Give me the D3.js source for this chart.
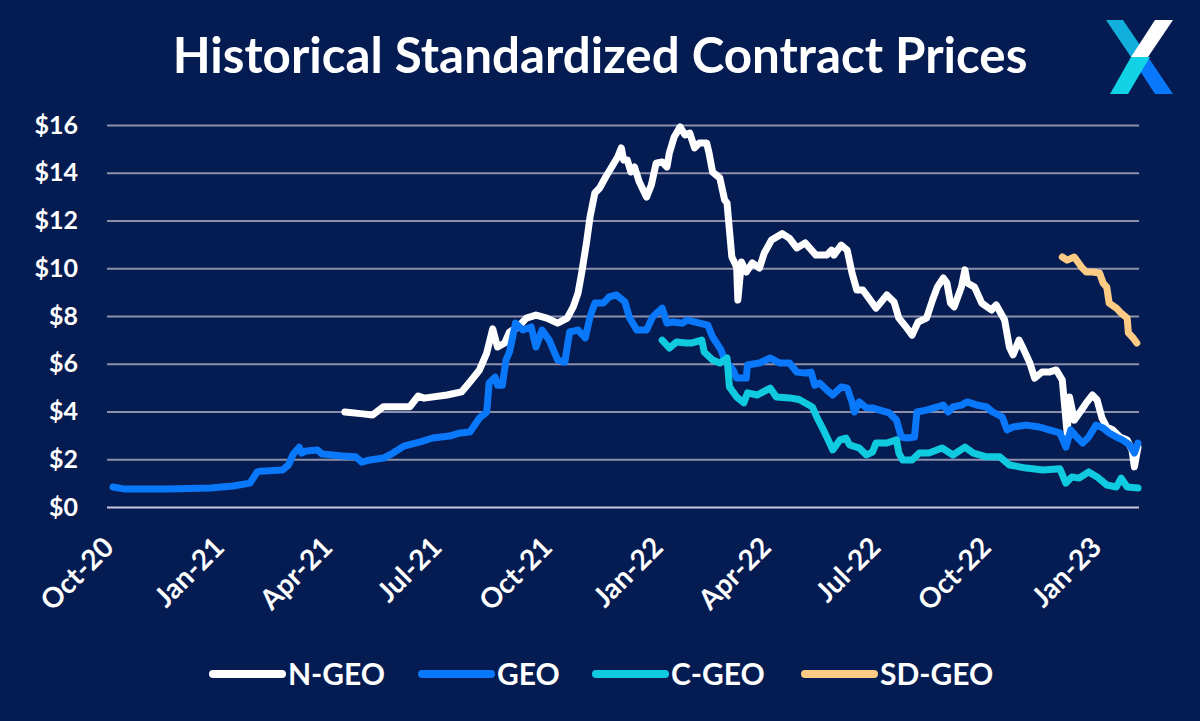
<!DOCTYPE html>
<html lang="en">
<head>
<meta charset="UTF-8">
<title>Historical Standardized Contract Prices</title>
<script src="https://d3js.org/d3.v7.min.js"></script>
<style>
  html, body { margin: 0; padding: 0; background: #051c52; }
  text { font-family: Lato, "Open Sans", sans-serif; font-weight: 700; fill: #ffffff; }
</style>
</head>
<body>
<script>

    // values (date, $)
    var nGeo = [
        ["2021-04-12",3.98],["2021-04-27",3.90],["2021-05-05",3.85],["2021-05-14",4.20],["2021-06-05",4.20],["2021-06-12",4.65],
        ["2021-06-17",4.56],["2021-07-06",4.69],["2021-07-18",4.82],["2021-07-25",5.24],["2021-08-02",5.74],["2021-08-08",6.45],
        ["2021-08-13",7.46],["2021-08-17",6.70],["2021-08-23",6.87],["2021-08-27",7.33],["2021-09-03",7.54],["2021-09-10",7.91],
        ["2021-09-18",8.04],["2021-09-27",7.91],["2021-10-06",7.70],["2021-10-14",7.91],["2021-10-19",8.38],["2021-10-23",8.96],
        ["2021-10-26",9.80],["2021-10-30",11.06],["2021-11-02",12.15],["2021-11-06",13.15],["2021-11-10",13.36],["2021-11-15",13.82],
        ["2021-11-20",14.24],["2021-11-25",14.66],["2021-11-28",15.04],["2021-11-30",14.53],["2021-12-03",14.53],["2021-12-06",14.03],
        ["2021-12-09",14.24],["2021-12-13",13.61],["2021-12-19",12.98],["2021-12-23",13.49],["2021-12-27",14.40],["2022-01-01",14.45],
        ["2022-01-05",14.24],["2022-01-07",14.83],["2022-01-11",15.50],["2022-01-16",15.92],["2022-01-20",15.58],["2022-01-24",15.66],
        ["2022-01-28",15.04],["2022-02-01",15.25],["2022-02-07",15.25],["2022-02-09",14.83],["2022-02-12",14.03],["2022-02-18",13.78],
        ["2022-02-22",12.86],["2022-02-24",12.73],["2022-02-28",10.47],["2022-03-04",10.05],["2022-03-05",8.67],["2022-03-08",10.26],
        ["2022-03-12",9.84],["2022-03-17",10.22],["2022-03-23",10.01],["2022-03-27",10.64],["2022-04-02",11.18],["2022-04-11",11.45],
        ["2022-04-17",11.25],["2022-04-23",10.85],["2022-04-30",11.06],["2022-05-09",10.55],["2022-05-18",10.55],["2022-05-22",10.76],
        ["2022-05-24",10.55],["2022-05-30",10.97],["2022-06-04",10.76],["2022-06-08",9.80],["2022-06-12",9.09],["2022-06-17",9.09],
        ["2022-06-22",8.75],["2022-06-28",8.33],["2022-07-07",8.88],["2022-07-13",8.59],["2022-07-17",7.91],["2022-07-23",7.54],
        ["2022-07-28",7.20],["2022-08-02",7.75],["2022-08-09",7.91],["2022-08-14",8.67],["2022-08-18",9.21],["2022-08-23",9.59],
        ["2022-08-26",9.38],["2022-08-29",8.54],["2022-09-01",8.38],["2022-09-07",9.21],["2022-09-10",9.93],["2022-09-12",9.38],
        ["2022-09-18",9.21],["2022-09-24",8.54],["2022-10-02",8.25],["2022-10-06",8.46],["2022-10-13",7.83],["2022-10-17",6.70],
        ["2022-10-20",6.37],["2022-10-25",6.99],["2022-10-29",6.58],["2022-11-03",6.03],["2022-11-07",5.40],["2022-11-13",5.65],
        ["2022-11-19",5.65],["2022-11-25",5.74],["2022-11-30",5.32],["2022-12-04",3.10],["2022-12-06",4.61],["2022-12-10",3.64],
        ["2022-12-16",4.06],["2022-12-20",4.36],["2022-12-25",4.69],["2022-12-29",4.48],["2023-01-02",3.73],["2023-01-06",3.35],
        ["2023-01-11",3.23],["2023-01-17",2.93],["2023-01-23",2.81],["2023-01-27",2.39],["2023-01-29",1.68],["2023-02-01",2.51]
    ];

    var geo = [
        ["2020-10-01",0.84],["2020-10-11",0.75],["2020-11-15",0.75],["2020-12-21",0.80],["2021-01-09",0.88],["2021-01-23",1.00],
        ["2021-01-29",1.47],["2021-02-01",1.50],["2021-02-19",1.55],["2021-02-24",1.76],["2021-02-28",2.22],["2021-03-05",2.50],
        ["2021-03-07",2.26],["2021-03-11",2.35],["2021-03-20",2.39],["2021-03-24",2.22],["2021-04-10",2.14],["2021-04-21",2.10],
        ["2021-04-26",1.88],["2021-05-03",1.97],["2021-05-14",2.05],["2021-05-22",2.26],["2021-05-31",2.55],["2021-06-13",2.72],
        ["2021-06-24",2.89],["2021-07-08",2.97],["2021-07-17",3.10],["2021-07-25",3.14],["2021-08-02",3.73],["2021-08-08",3.98],
        ["2021-08-10",5.19],["2021-08-15",5.44],["2021-08-17",5.10],["2021-08-21",5.10],["2021-08-24",6.15],["2021-08-27",6.50],
        ["2021-09-01",7.70],["2021-09-07",7.41],["2021-09-14",7.54],["2021-09-18",6.70],["2021-09-23",7.41],["2021-09-29",6.99],
        ["2021-10-06",6.16],["2021-10-12",6.07],["2021-10-16",7.33],["2021-10-23",7.41],["2021-10-29",7.08],["2021-11-02",7.96],
        ["2021-11-06",8.54],["2021-11-13",8.54],["2021-11-18",8.80],["2021-11-24",8.88],["2021-12-01",8.59],["2021-12-05",7.91],
        ["2021-12-11",7.41],["2021-12-19",7.41],["2021-12-24",7.96],["2022-01-01",8.33],["2022-01-05",7.70],["2022-01-10",7.75],
        ["2022-01-18",7.70],["2022-01-22",7.83],["2022-02-01",7.70],["2022-02-08",7.62],["2022-02-12",7.12],["2022-02-19",6.58],
        ["2022-02-22",6.16],["2022-03-01",5.74],["2022-03-04",5.40],["2022-03-12",5.40],["2022-03-13",5.95],["2022-03-23",6.03],
        ["2022-04-01",6.24],["2022-04-09",6.03],["2022-04-17",6.03],["2022-04-23",5.65],["2022-04-30",5.61],["2022-05-05",5.65],
        ["2022-05-08",5.10],["2022-05-12",5.19],["2022-05-18",4.90],["2022-05-23",4.69],["2022-05-30",5.03],["2022-06-04",4.98],
        ["2022-06-08",4.40],["2022-06-10",3.98],["2022-06-14",4.40],["2022-06-20",4.15],["2022-06-25",4.15],["2022-07-01",4.06],
        ["2022-07-09",3.94],["2022-07-15",3.64],["2022-07-19",2.93],["2022-07-24",2.89],["2022-07-30",2.93],["2022-08-01",3.98],
        ["2022-08-09",4.06],["2022-08-18",4.19],["2022-08-23",4.27],["2022-08-27",3.98],["2022-08-31",4.19],["2022-09-07",4.27],
        ["2022-09-12",4.40],["2022-09-20",4.27],["2022-09-28",4.19],["2022-10-03",3.98],["2022-10-11",3.77],["2022-10-15",3.23],
        ["2022-10-20",3.35],["2022-10-31",3.43],["2022-11-11",3.35],["2022-11-19",3.23],["2022-11-28",3.10],["2022-12-03",2.51],
        ["2022-12-07",3.23],["2022-12-12",2.93],["2022-12-17",2.68],["2022-12-22",2.93],["2022-12-28",3.43],["2023-01-03",3.31],
        ["2023-01-08",3.10],["2023-01-14",2.93],["2023-01-19",2.81],["2023-01-25",2.60],["2023-01-29",2.26],["2023-02-01",2.68]
    ];

    var cGeo = [
        ["2022-01-01",6.99],["2022-01-07",6.66],["2022-01-13",6.91],["2022-01-21",6.87],["2022-01-26",6.87],["2022-02-03",6.99],
        ["2022-02-05",6.49],["2022-02-12",6.16],["2022-02-18",6.03],["2022-02-24",6.24],["2022-02-26",5.03],["2022-03-04",4.61],
        ["2022-03-10",4.36],["2022-03-13",4.78],["2022-03-21",4.69],["2022-04-01",4.98],["2022-04-06",4.61],["2022-04-17",4.57],
        ["2022-04-25",4.50],["2022-05-06",4.19],["2022-05-10",3.73],["2022-05-14",3.35],["2022-05-20",2.72],["2022-05-23",2.39],
        ["2022-05-29",2.81],["2022-06-03",2.89],["2022-06-06",2.60],["2022-06-14",2.47],["2022-06-20",2.18],["2022-06-25",2.30],
        ["2022-06-28",2.68],["2022-07-07",2.68],["2022-07-15",2.81],["2022-07-17",2.26],["2022-07-20",1.97],["2022-07-28",1.97],
        ["2022-08-03",2.26],["2022-08-11",2.26],["2022-08-22",2.47],["2022-08-31",2.18],["2022-09-10",2.51],["2022-09-17",2.26],
        ["2022-09-28",2.10],["2022-10-09",2.10],["2022-10-17",1.76],["2022-10-31",1.63],["2022-11-14",1.55],["2022-11-28",1.60],
        ["2022-12-03",1.00],["2022-12-08",1.26],["2022-12-14",1.21],["2022-12-22",1.47],["2022-12-29",1.26],["2023-01-06",0.92],
        ["2023-01-14",0.84],["2023-01-18",1.21],["2023-01-23",0.84],["2023-02-01",0.80]
    ];

    var sdGeo = [
        ["2022-11-30",10.47],["2022-12-04",10.34],["2022-12-10",10.47],["2022-12-16",10.05],["2022-12-20",9.84],["2022-12-25",9.84],
        ["2022-12-31",9.80],["2023-01-03",9.38],["2023-01-06",9.21],["2023-01-08",8.54],["2023-01-14",8.33],["2023-01-18",8.12],
        ["2023-01-23",7.91],["2023-01-24",7.29],["2023-01-28",7.08],["2023-01-31",6.87]
    ];

    var seriesNames = ["N-GEO", "GEO", "C-GEO", "SD-GEO"];
    var seriesColors = ["#ffffff", "#0a78fb", "#10cbe0", "#fdcb84"];
    var xTickDates = ["2020-10-01","2021-01-01","2021-04-01","2021-07-01","2021-10-01","2022-01-01",
                      "2022-04-01","2022-07-01","2022-10-01","2023-01-01"];
    var xTickLabels = ["Oct-20","Jan-21","Apr-21","Jul-21","Oct-21","Jan-22","Apr-22","Jul-22","Oct-22","Jan-23"];
    var yTicks = [0, 2, 4, 6, 8, 10, 12, 14, 16];

    var width = 1200;
    var height = 721;
    var parse = d3.timeParse("%Y-%m-%d");

    var svg = d3.select("body")
        .append("svg")
        .attr("width", width)
        .attr("height", height)
        .style("display", "block");

    svg.append("rect")
        .attr("width", width)
        .attr("height", height)
        .attr("fill", "#051c52");

    var x = d3.scaleTime()
        .domain([parse("2020-10-01"), parse("2023-02-01")])
        .range([113, 1138]);

    var y = d3.scaleLinear()
        .domain([0, 16])
        .range([507, 125]);

    // title
    var title = svg.append("text")
        .attr("x", 600)
        .attr("y", 73)
        .attr("text-anchor", "middle")
        .style("font-size", "44px")
        .text("Historical Standardized Contract Prices");
    var tw = title.node().getComputedTextLength();
    title.style("font-size", (44 * 855 / tw).toFixed(2) + "px");

    // gridlines + y labels
    var yAxis = d3.axisLeft(y)
        .tickValues(yTicks)
        .tickSize(-1032)
        .tickPadding(29)
        .tickFormat(function (d) { return "$" + d; });

    var gy = svg.append("g")
        .attr("transform", "translate(107,0)")
        .call(yAxis);
    gy.select(".domain").remove();
    gy.selectAll(".tick line")
        .attr("stroke", function (d) { return d === 0 ? "#c9c8dc" : "#8d90ad"; })
        .attr("stroke-width", 2);
    gy.selectAll(".tick text")
        .attr("fill", "#ffffff")
        .style("font-size", "25px");

    // x labels
    var xAxis = d3.axisBottom(x)
        .tickValues(xTickDates.map(parse))
        .tickSize(0)
        .tickFormat(function (d, i) { return xTickLabels[i]; });

    var gx = svg.append("g")
        .attr("transform", "translate(0,507)")
        .call(xAxis);
    gx.select(".domain").remove();
    gx.selectAll(".tick text")
        .attr("fill", "#ffffff")
        .style("font-size", "28px")
        .attr("text-anchor", "end")
        .attr("x", 0)
        .attr("y", 0)
        .attr("dy", 0)
        .attr("transform", "translate(2,42) rotate(-45)");

    // lines
    var line = d3.line()
        .x(function (d) { return x(parse(d[0])); })
        .y(function (d) { return y(d[1]); });

    var allSeries = [nGeo, geo, cGeo, sdGeo];
    svg.append("g")
        .selectAll("path")
        .data(allSeries)
        .enter()
            .append("path")
            .attr("d", line)
            .attr("fill", "none")
            .attr("stroke", function (d, i) { return seriesColors[i]; })
            .attr("stroke-width", 7)
            .attr("stroke-linejoin", "round")
            .attr("stroke-linecap", "round");

    // legend
    var legendX = [213, 422, 596, 805];
    var legend = svg.append("g")
        .selectAll("g")
        .data(seriesNames)
        .enter()
            .append("g")
            .attr("transform", function (d, i) { return "translate(" + legendX[i] + ",674)"; });
    legend.append("line")
        .attr("x1", 0)
        .attr("x2", 69)
        .attr("stroke", function (d, i) { return seriesColors[i]; })
        .attr("stroke-width", 8)
        .attr("stroke-linecap", "round");
    legend.append("text")
        .attr("x", 75)
        .attr("dy", "0.36em")
        .style("font-size", "30px")
        .text(function (d) { return d; });

    // logo
    var logo = svg.append("g");
    logo.append("polygon")
        .attr("points", "1106,20 1123,20 1148,57 1131,57")
        .attr("fill", "#12afdc");
    logo.append("polygon")
        .attr("points", "1155,20 1173,20 1148,57 1131,57")
        .attr("fill", "#ffffff");
    logo.append("polygon")
        .attr("points", "1131,57 1148,57 1173,94 1155,94")
        .attr("fill", "#0a78fb");
    logo.append("polygon")
        .attr("points", "1131,57 1150,57 1128,94 1110,94")
        .attr("fill", "#12d2e6");

</script>
</body>
</html>
